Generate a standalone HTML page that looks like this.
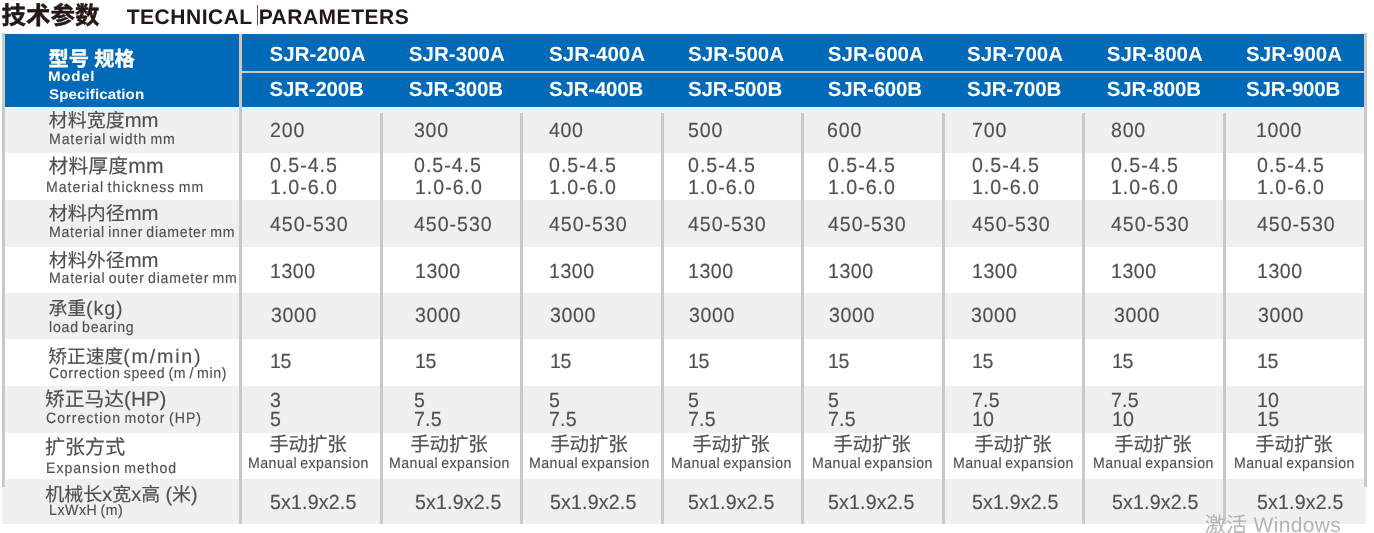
<!DOCTYPE html>
<html lang="zh-CN">
<head>
<meta charset="utf-8">
<title>技术参数 TECHNICAL PARAMETERS</title>
<style>
html,body{margin:0;padding:0;background:#fff;}
body{width:1374px;height:533px;position:relative;overflow:hidden;font-family:"Liberation Sans","Noto Sans CJK SC",sans-serif;color:#505050;}
.a{position:absolute;white-space:nowrap;line-height:1;text-rendering:geometricPrecision;}
.t1,.t2{color:#231815;}
.hc,.he,.hm{color:#fff;}
.wm{color:#b4b4b4;}
.cur{position:absolute;left:257px;top:5px;width:1px;height:20px;background:#555;}
.hd{position:absolute;left:5px;top:34px;width:1360px;height:72.5px;background:#0069b8;}
.bar{position:absolute;background:#c9c9c9;}
.row{position:absolute;left:5px;width:1360px;background:#eff0f0;}
.t1{font-size:24px;font-weight:bold;-webkit-text-stroke:0.45px #231815}
.t2{font-size:21px;font-weight:bold;}
.hc{font-size:20.5px;font-weight:bold;-webkit-text-stroke:0.4px #fff}
.he{font-size:14px;font-weight:bold;transform-origin:0 0;transform:scaleX(1.08)}
.hm{font-size:20.5px;font-weight:bold;}
.lc{font-size:18.75px;font-weight:normal;-webkit-text-stroke:0.15px #505050}
.le{font-size:15px;font-weight:normal;word-spacing:-1.5px;-webkit-text-stroke:0.15px #505050;transform-origin:0 0;transform:scaleX(0.94)}
.v{font-size:20.5px;font-weight:normal;-webkit-text-stroke:0.15px #505050;transform-origin:0 0;transform:scaleX(0.955)}
.vc{font-size:19px;font-weight:normal;-webkit-text-stroke:0.15px #505050}
.ve{font-size:15px;font-weight:normal;word-spacing:-1.5px;-webkit-text-stroke:0.15px #505050;transform-origin:0 0;transform:scaleX(0.94)}
.wm{font-size:21px;font-weight:normal;}
</style>
</head>
<body>

<div class="row" style="top:106.5px;height:46.5px"></div>
<div class="row" style="top:200px;height:47.0px"></div>
<div class="row" style="top:293.0px;height:46.0px"></div>
<div class="row" style="top:386px;height:46.5px"></div>
<div class="row" style="top:479px;height:45.3px;left:2px;width:1364px"></div>
<div class="hd"></div>
<div class="bar" style="left:2px;top:33px;width:3px;height:454px"></div>
<div class="bar" style="left:1364px;top:33px;width:3px;height:454px"></div>
<div class="bar" style="left:239.2px;top:34px;width:3px;height:490.3px"></div>
<div class="bar" style="left:242px;top:70.8px;width:1122px;height:2px"></div>
<div class="bar" style="left:380.2px;top:113px;width:3px;height:411.3px"></div>
<div class="bar" style="left:520.4px;top:113px;width:3px;height:411.3px"></div>
<div class="bar" style="left:660.5px;top:113px;width:3px;height:411.3px"></div>
<div class="bar" style="left:800.5px;top:113px;width:3px;height:411.3px"></div>
<div class="bar" style="left:941.5px;top:113px;width:3px;height:411.3px"></div>
<div class="bar" style="left:1081.5px;top:113px;width:3px;height:411.3px"></div>
<div class="bar" style="left:1222.5px;top:113px;width:3px;height:411.3px"></div>
<div class="a t1" style="left:1.5px;top:5px;font-size:24.5px;letter-spacing:0.01px">技术参数</div>
<div class="a t2" style="left:126.75px;top:7px;letter-spacing:0.51px">TECHNICAL PARAMETERS</div>
<div class="a hc" style="left:48.5px;top:50px;font-size:20.25px;letter-spacing:-0.12px">型号 规格</div>
<div class="a he" style="left:48.25px;top:69px;letter-spacing:0.65px">Model</div>
<div class="a he" style="left:48.5px;top:87px;letter-spacing:0.08px">Specification</div>
<div class="a hm" style="left:269.5px;top:45px;letter-spacing:0.06px">SJR-200A</div>
<div class="a hm" style="left:269.5px;top:80px;letter-spacing:-0.2px">SJR-200B</div>
<div class="a hm" style="left:408.75px;top:45px;letter-spacing:0.06px">SJR-300A</div>
<div class="a hm" style="left:408.75px;top:80px;letter-spacing:-0.2px">SJR-300B</div>
<div class="a hm" style="left:549px;top:45px;letter-spacing:0.06px">SJR-400A</div>
<div class="a hm" style="left:549px;top:80px;letter-spacing:-0.2px">SJR-400B</div>
<div class="a hm" style="left:688px;top:45px;letter-spacing:0.06px">SJR-500A</div>
<div class="a hm" style="left:688px;top:80px;letter-spacing:-0.2px">SJR-500B</div>
<div class="a hm" style="left:827.75px;top:45px;letter-spacing:0.06px">SJR-600A</div>
<div class="a hm" style="left:827.75px;top:80px;letter-spacing:-0.2px">SJR-600B</div>
<div class="a hm" style="left:967px;top:45px;letter-spacing:0.06px">SJR-700A</div>
<div class="a hm" style="left:967px;top:80px;letter-spacing:-0.2px">SJR-700B</div>
<div class="a hm" style="left:1106.75px;top:45px;letter-spacing:0.06px">SJR-800A</div>
<div class="a hm" style="left:1106.75px;top:80px;letter-spacing:-0.2px">SJR-800B</div>
<div class="a hm" style="left:1246px;top:45px;letter-spacing:0.06px">SJR-900A</div>
<div class="a hm" style="left:1246px;top:80px;letter-spacing:-0.2px">SJR-900B</div>
<div class="a lc" style="left:48.75px;top:112px;font-size:19px;letter-spacing:-0.02px">材料宽度<span style="font-size:1.07em;line-height:0">mm</span></div>
<div class="a le" style="left:48.75px;top:132px;letter-spacing:0.95px">Material width mm</div>
<div class="a lc" style="left:48.5px;top:158px;font-size:19.75px;letter-spacing:0.17px">材料厚度<span style="font-size:1.07em;line-height:0">mm</span></div>
<div class="a le" style="left:45.5px;top:180px;letter-spacing:1.06px">Material thickness mm</div>
<div class="a lc" style="left:48.75px;top:205px;font-size:19px;letter-spacing:-0.02px">材料内径<span style="font-size:1.07em;line-height:0">mm</span></div>
<div class="a le" style="left:48.75px;top:225px;letter-spacing:0.77px">Material inner diameter mm</div>
<div class="a lc" style="left:48.75px;top:252px;font-size:19px;letter-spacing:-0.02px">材料外径<span style="font-size:1.07em;line-height:0">mm</span></div>
<div class="a le" style="left:48.75px;top:271px;letter-spacing:0.83px">Material outer diameter mm</div>
<div class="a lc" style="left:48.5px;top:300px">承重<span style="font-size:1.05em;line-height:0;letter-spacing:0.9px">(kg)</span></div>
<div class="a le" style="left:48.75px;top:320px;letter-spacing:0.82px">load bearing</div>
<div class="a lc" style="left:48.25px;top:348px">矫正速度<span style="font-size:1.05em;line-height:0;letter-spacing:1.78px">(m/min)</span></div>
<div class="a le" style="left:49.25px;top:366px;letter-spacing:0.69px">Correction speed (m / min)</div>
<div class="a lc" style="left:45px;top:391px;font-size:19.75px">矫正马达<span style="font-size:1.05em;line-height:0;letter-spacing:-0.04px">(HP)</span></div>
<div class="a le" style="left:45.5px;top:411px;letter-spacing:1.06px">Correction motor (HP)</div>
<div class="a lc" style="left:45px;top:438px;font-size:20px;letter-spacing:0.05px">扩张方式</div>
<div class="a le" style="left:45.5px;top:461px;letter-spacing:1.05px">Expansion method</div>
<div class="a lc" style="left:45.25px;top:486px;font-size:19px">机械长<span style="font-size:1.05em;line-height:0;letter-spacing:-0.06px">x</span>宽<span style="font-size:1.05em;line-height:0;letter-spacing:-0.06px">x</span>高 <span style="font-size:1.05em;line-height:0;letter-spacing:-0.06px">(</span>米<span style="font-size:1.05em;line-height:0;letter-spacing:-0.06px">)</span></div>
<div class="a le" style="left:48.75px;top:503px;letter-spacing:0.63px">LxWxH (m)</div>
<div class="a v" style="left:269.5px;top:121px;letter-spacing:0.86px">200</div>
<div class="a v" style="left:414.25px;top:121px;letter-spacing:0.77px">300</div>
<div class="a v" style="left:549.25px;top:121px;letter-spacing:0.63px">400</div>
<div class="a v" style="left:687.5px;top:121px;letter-spacing:0.86px">500</div>
<div class="a v" style="left:827.25px;top:121px;letter-spacing:0.94px">600</div>
<div class="a v" style="left:971.5px;top:121px;letter-spacing:0.92px">700</div>
<div class="a v" style="left:1111px;top:121px;letter-spacing:0.81px">800</div>
<div class="a v" style="left:1256.25px;top:121px;letter-spacing:0.66px">1000</div>
<div class="a v" style="left:269.75px;top:156px;letter-spacing:1.04px">0.5-4.5</div>
<div class="a v" style="left:270px;top:178px;letter-spacing:1.03px">1.0-6.0</div>
<div class="a v" style="left:414.25px;top:156px;letter-spacing:1.04px">0.5-4.5</div>
<div class="a v" style="left:414.5px;top:178px;letter-spacing:1.03px">1.0-6.0</div>
<div class="a v" style="left:549px;top:156px;letter-spacing:1.04px">0.5-4.5</div>
<div class="a v" style="left:549.25px;top:178px;letter-spacing:1.03px">1.0-6.0</div>
<div class="a v" style="left:687.75px;top:156px;letter-spacing:1.04px">0.5-4.5</div>
<div class="a v" style="left:688px;top:178px;letter-spacing:1.03px">1.0-6.0</div>
<div class="a v" style="left:827.75px;top:156px;letter-spacing:1.04px">0.5-4.5</div>
<div class="a v" style="left:828px;top:178px;letter-spacing:1.03px">1.0-6.0</div>
<div class="a v" style="left:971.75px;top:156px;letter-spacing:1.04px">0.5-4.5</div>
<div class="a v" style="left:972px;top:178px;letter-spacing:1.03px">1.0-6.0</div>
<div class="a v" style="left:1111px;top:156px;letter-spacing:1.04px">0.5-4.5</div>
<div class="a v" style="left:1111.25px;top:178px;letter-spacing:1.03px">1.0-6.0</div>
<div class="a v" style="left:1256.75px;top:156px;letter-spacing:1.04px">0.5-4.5</div>
<div class="a v" style="left:1257px;top:178px;letter-spacing:1.03px">1.0-6.0</div>
<div class="a v" style="left:269.5px;top:215px;letter-spacing:1.02px">450-530</div>
<div class="a v" style="left:414px;top:215px;letter-spacing:1.02px">450-530</div>
<div class="a v" style="left:548.75px;top:215px;letter-spacing:1.02px">450-530</div>
<div class="a v" style="left:687.5px;top:215px;letter-spacing:1.02px">450-530</div>
<div class="a v" style="left:827.5px;top:215px;letter-spacing:1.02px">450-530</div>
<div class="a v" style="left:971.5px;top:215px;letter-spacing:1.02px">450-530</div>
<div class="a v" style="left:1110.75px;top:215px;letter-spacing:1.02px">450-530</div>
<div class="a v" style="left:1256.5px;top:215px;letter-spacing:1.02px">450-530</div>
<div class="a v" style="left:270px;top:262px;letter-spacing:0.55px">1300</div>
<div class="a v" style="left:414.5px;top:262px;letter-spacing:0.55px">1300</div>
<div class="a v" style="left:549.25px;top:262px;letter-spacing:0.55px">1300</div>
<div class="a v" style="left:688px;top:262px;letter-spacing:0.55px">1300</div>
<div class="a v" style="left:828px;top:262px;letter-spacing:0.55px">1300</div>
<div class="a v" style="left:972px;top:262px;letter-spacing:0.55px">1300</div>
<div class="a v" style="left:1111.25px;top:262px;letter-spacing:0.55px">1300</div>
<div class="a v" style="left:1257px;top:262px;letter-spacing:0.55px">1300</div>
<div class="a v" style="left:270.5px;top:306px;letter-spacing:0.62px">3000</div>
<div class="a v" style="left:415px;top:306px;letter-spacing:0.62px">3000</div>
<div class="a v" style="left:549.5px;top:306px;letter-spacing:0.62px">3000</div>
<div class="a v" style="left:688.5px;top:306px;letter-spacing:0.62px">3000</div>
<div class="a v" style="left:828.5px;top:306px;letter-spacing:0.62px">3000</div>
<div class="a v" style="left:971px;top:306px;letter-spacing:0.62px">3000</div>
<div class="a v" style="left:1114px;top:306px;letter-spacing:0.62px">3000</div>
<div class="a v" style="left:1257.75px;top:306px;letter-spacing:0.62px">3000</div>
<div class="a v" style="left:270.25px;top:352px;letter-spacing:-0.51px">15</div>
<div class="a v" style="left:414.75px;top:352px;letter-spacing:-0.51px">15</div>
<div class="a v" style="left:549.5px;top:352px;letter-spacing:-0.51px">15</div>
<div class="a v" style="left:688.25px;top:352px;letter-spacing:-0.51px">15</div>
<div class="a v" style="left:828.25px;top:352px;letter-spacing:-0.51px">15</div>
<div class="a v" style="left:972.25px;top:352px;letter-spacing:-0.51px">15</div>
<div class="a v" style="left:1111.5px;top:352px;letter-spacing:-0.51px">15</div>
<div class="a v" style="left:1257.25px;top:352px;letter-spacing:-0.51px">15</div>
<div class="a v" style="left:269.75px;top:391px">3</div>
<div class="a v" style="left:269.5px;top:410px">5</div>
<div class="a v" style="left:414px;top:391px">5</div>
<div class="a v" style="left:414px;top:410px;letter-spacing:0.22px">7.5</div>
<div class="a v" style="left:548.75px;top:391px">5</div>
<div class="a v" style="left:548.75px;top:410px;letter-spacing:0.22px">7.5</div>
<div class="a v" style="left:687.5px;top:391px">5</div>
<div class="a v" style="left:687.5px;top:410px;letter-spacing:0.22px">7.5</div>
<div class="a v" style="left:827.5px;top:391px">5</div>
<div class="a v" style="left:827.5px;top:410px;letter-spacing:0.22px">7.5</div>
<div class="a v" style="left:971.5px;top:391px;letter-spacing:0.22px">7.5</div>
<div class="a v" style="left:972.25px;top:410px;letter-spacing:0.22px">10</div>
<div class="a v" style="left:1110.75px;top:391px;letter-spacing:0.22px">7.5</div>
<div class="a v" style="left:1111.5px;top:410px;letter-spacing:0.22px">10</div>
<div class="a v" style="left:1257.25px;top:391px;letter-spacing:0.22px">10</div>
<div class="a v" style="left:1257.25px;top:410px;letter-spacing:0.32px">15</div>
<div class="a vc" style="left:269.25px;top:436px;font-size:19.5px;letter-spacing:-0.16px">手动扩张</div>
<div class="a ve" style="left:247.75px;top:456px;letter-spacing:0.52px">Manual expansion</div>
<div class="a vc" style="left:410.25px;top:436px;font-size:19.5px;letter-spacing:-0.16px">手动扩张</div>
<div class="a ve" style="left:388.75px;top:456px;letter-spacing:0.52px">Manual expansion</div>
<div class="a vc" style="left:550.25px;top:436px;font-size:19.5px;letter-spacing:-0.16px">手动扩张</div>
<div class="a ve" style="left:528.75px;top:456px;letter-spacing:0.52px">Manual expansion</div>
<div class="a vc" style="left:692.25px;top:436px;font-size:19.5px;letter-spacing:-0.16px">手动扩张</div>
<div class="a ve" style="left:670.75px;top:456px;letter-spacing:0.52px">Manual expansion</div>
<div class="a vc" style="left:833.25px;top:436px;font-size:19.5px;letter-spacing:-0.16px">手动扩张</div>
<div class="a ve" style="left:811.75px;top:456px;letter-spacing:0.52px">Manual expansion</div>
<div class="a vc" style="left:974.25px;top:436px;font-size:19.5px;letter-spacing:-0.16px">手动扩张</div>
<div class="a ve" style="left:952.75px;top:456px;letter-spacing:0.52px">Manual expansion</div>
<div class="a vc" style="left:1114.25px;top:436px;font-size:19.5px;letter-spacing:-0.16px">手动扩张</div>
<div class="a ve" style="left:1092.75px;top:456px;letter-spacing:0.52px">Manual expansion</div>
<div class="a vc" style="left:1255.25px;top:436px;font-size:19.5px;letter-spacing:-0.16px">手动扩张</div>
<div class="a ve" style="left:1233.75px;top:456px;letter-spacing:0.52px">Manual expansion</div>
<div class="a v" style="left:270.25px;top:493px;letter-spacing:0.18px">5x1.9x2.5</div>
<div class="a v" style="left:414.75px;top:493px;letter-spacing:0.18px">5x1.9x2.5</div>
<div class="a v" style="left:549.5px;top:493px;letter-spacing:0.18px">5x1.9x2.5</div>
<div class="a v" style="left:688.25px;top:493px;letter-spacing:0.18px">5x1.9x2.5</div>
<div class="a v" style="left:828.25px;top:493px;letter-spacing:0.18px">5x1.9x2.5</div>
<div class="a v" style="left:972.25px;top:493px;letter-spacing:0.18px">5x1.9x2.5</div>
<div class="a v" style="left:1111.5px;top:493px;letter-spacing:0.18px">5x1.9x2.5</div>
<div class="a v" style="left:1257.25px;top:493px;letter-spacing:0.18px">5x1.9x2.5</div>
<div class="a wm" style="left:1204.75px;top:515px;letter-spacing:0.34px">激活 Windows</div>
<div class="cur"></div>
</body>
</html>
